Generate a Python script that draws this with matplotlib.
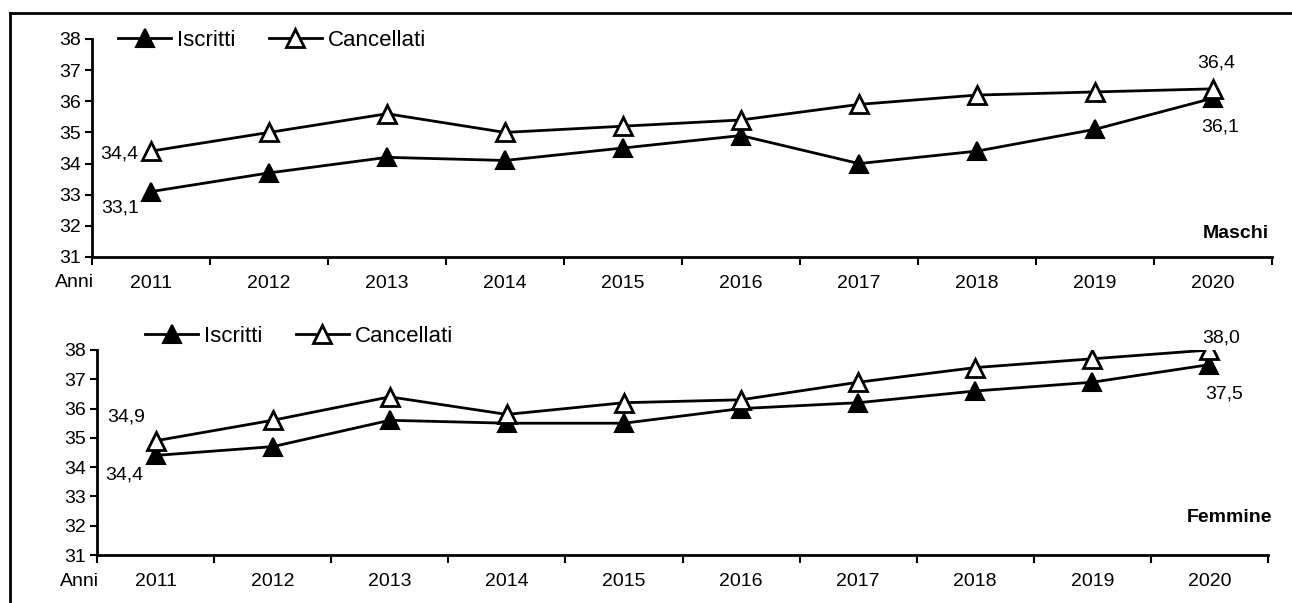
import matplotlib
matplotlib.use("Agg")
import matplotlib.pyplot as plt
from matplotlib.lines import Line2D

plt.rcParams['font.family'] = ['Liberation Sans', 'DejaVu Sans']

years = ["2011", "2012", "2013", "2014", "2015", "2016", "2017", "2018", "2019", "2020"]
maschi_iscritti = [33.1, 33.7, 34.2, 34.1, 34.5, 34.9, 34.0, 34.4, 35.1, 36.1]
maschi_cancellati = [34.4, 35.0, 35.6, 35.0, 35.2, 35.4, 35.9, 36.2, 36.3, 36.4]
femmine_iscritti = [34.4, 34.7, 35.6, 35.5, 35.5, 36.0, 36.2, 36.6, 36.9, 37.5]
femmine_cancellati = [34.9, 35.6, 36.4, 35.8, 36.2, 36.3, 36.9, 37.4, 37.7, 38.0]
yticks = [31, 32, 33, 34, 35, 36, 37, 38]

W, H = 1292, 603
fig = plt.figure(figsize=(W / 100, H / 100), dpi=100)

# outer frame (top and left edges)
fig.add_artist(Line2D([10 / W, 1.0], [1 - 13 / H, 1 - 13 / H], color='black', lw=2, transform=fig.transFigure))
fig.add_artist(Line2D([10 / W, 10 / W], [1 - 13 / H, 0.0], color='black', lw=2, transform=fig.transFigure))

FS = 14


def fmt(v):
    return f"{v:.1f}".replace('.', ',')


def panel(rect, isc, canc, title, title_xy, leg_xy, ann):
    ax = fig.add_axes(rect)
    x = list(range(len(years)))
    ax.plot(x, isc, color='black', lw=2, marker='^', ms=13, mfc='black', mec='black', mew=1.5,
            label='Iscritti', zorder=3)
    ax.plot(x, canc, color='black', lw=2, marker='^', ms=13, mfc='white', mec='black', mew=2,
            label='Cancellati', zorder=4)
    ax.set_xlim(-0.5, len(years) - 0.5)
    ax.set_ylim(31, 38)
    ax.set_yticks(yticks)
    ax.set_yticklabels([str(t) for t in yticks], fontsize=FS)
    ax.set_xticks([i - 0.5 for i in range(len(years) + 1)])
    ax.set_xticklabels([])
    ax.set_xticks(x, minor=True)
    ax.set_xticklabels(years, minor=True, fontsize=FS)
    ax.tick_params(axis='x', which='minor', length=0, pad=13)
    ax.tick_params(axis='x', which='major', length=6, width=1.5, direction='out')
    ax.tick_params(axis='y', length=5, width=1.5, direction='out', pad=3)
    for s in ['top', 'right']:
        ax.spines[s].set_visible(False)
    for s in ['left', 'bottom']:
        ax.spines[s].set_linewidth(2)
    ax.annotate("Anni", xy=(-0.5, 31), xytext=(2, -26), textcoords='offset pixels',
                ha='right', va='center', fontsize=FS, annotation_clip=False)
    ax.text(title_xy[0], title_xy[1], title, transform=ax.transAxes, ha='right', va='center',
            fontsize=FS, fontweight='bold')
    ax.legend(loc='center left', bbox_to_anchor=leg_xy, bbox_transform=fig.transFigure,
              ncol=2, frameon=False, fontsize=16, handlelength=2.4, handletextpad=0.25,
              columnspacing=1.5, borderaxespad=0, borderpad=0)
    for (xi, yi, dx, dy, ha) in ann:
        ax.annotate(fmt(yi), xy=(xi, yi), xytext=(dx, dy), textcoords='offset pixels',
                    ha=ha, va='center', fontsize=FS, annotation_clip=False)
    return ax


top_rect = [92 / W, 1 - 257 / H, (1272 - 92) / W, (257 - 39) / H]
bot_rect = [97 / W, 1 - 555 / H, (1268 - 97) / W, (555 - 350) / H]

panel(top_rect, maschi_iscritti, maschi_cancellati, "Maschi", (0.997, 0.11), (118 / W, 1 - 40 / H),
      [(0, maschi_cancellati[0], -13, -3, 'right'),
       (0, maschi_iscritti[0], -12, -16, 'right'),
       (9, maschi_cancellati[-1], 3, 26, 'center'),
       (9, maschi_iscritti[-1], 7, -29, 'center')])

panel(bot_rect, femmine_iscritti, femmine_cancellati, "Femmine", (1.004, 0.185), (145 / W, 1 - 336 / H),
      [(0, femmine_cancellati[0], -10, 24, 'right'),
       (0, femmine_iscritti[0], -12, -20, 'right'),
       (9, femmine_cancellati[-1], 12, 12, 'center'),
       (9, femmine_iscritti[-1], 15, -29, 'center')])

fig.savefig("out.png", dpi=100)
